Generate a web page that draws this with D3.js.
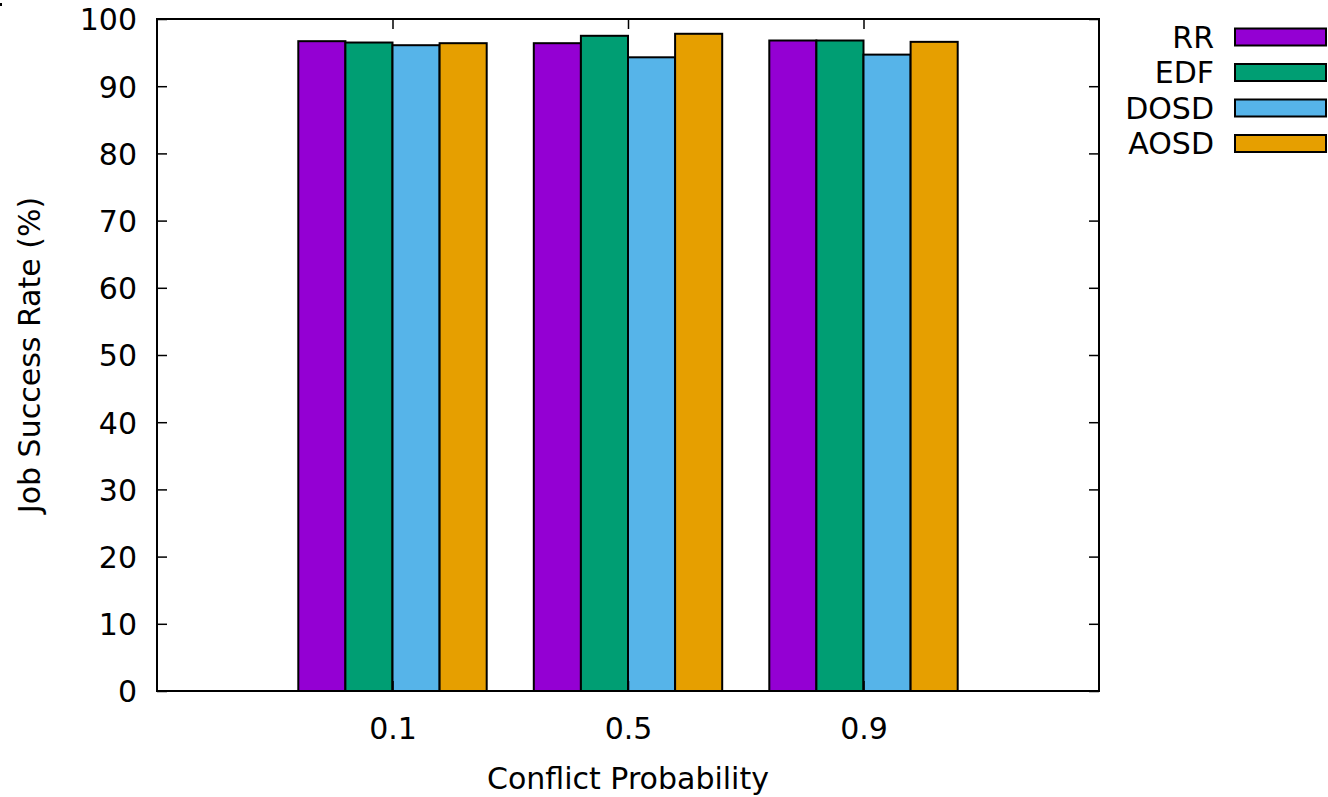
<!DOCTYPE html>
<html><head><meta charset="utf-8">
<script src="https://cdn.jsdelivr.net/npm/d3@7/dist/d3.min.js"></script>
<style>body{margin:0;background:#fff}svg{display:block}text{font-family:"DejaVu Sans",sans-serif;fill:#000}</style>
</head><body>
<svg id="c" width="1328" height="797"></svg>
<script>
const categories = ["0.1", "0.5", "0.9"];
const seriesNames = ["RR", "EDF", "DOSD", "AOSD"];
const seriesColors = ["#9400d3", "#009e73", "#56b4e9", "#e69f00"];
const RR   = [96.7, 96.4, 96.8];
const EDF  = [96.5, 97.5, 96.8];
const DOSD = [96.1, 94.3, 94.7];
const AOSD = [96.4, 97.8, 96.6];
const yTicks = [0,10,20,30,40,50,60,70,80,90,100];
const series = [RR, EDF, DOSD, AOSD];

const svg = d3.select("#c");
const L = 157, R = 1099, T = 19, B = 691;
const x = d3.scaleLinear().domain([-1, 3]).range([L, R]);
const y = d3.scaleLinear().domain([0, 100]).range([B, T]);
const fs = 30;
const bw = 0.2;

// bars
series.forEach((vals, s) => {
  svg.append("g").selectAll("rect").data(vals).join("rect")
    .attr("x", (d, i) => x(i - 0.4 + s * bw))
    .attr("width", x(bw) - x(0))
    .attr("y", d => y(d))
    .attr("height", d => y(0) - y(d))
    .attr("fill", seriesColors[s])
    .attr("stroke", "#000").attr("stroke-width", 2);
});

// frame
svg.append("rect").attr("x", L).attr("y", T).attr("width", R - L).attr("height", B - T)
  .attr("fill", "none").attr("stroke", "#000").attr("stroke-width", 2);

// y axis
const tl = 10;
const yAxis = d3.axisLeft(y).tickValues(yTicks).tickSize(-tl).tickPadding(20);
const gy = svg.append("g").attr("transform", `translate(${L},0)`).call(yAxis);
gy.select(".domain").remove();
gy.selectAll("line").attr("stroke", "#000").attr("stroke-width", 1.5);
gy.selectAll("text").attr("font-size", fs).attr("font-family", "DejaVu Sans").attr("dy", "0.36em");
const yAxisR = d3.axisRight(y).tickValues(yTicks).tickSize(-tl).tickFormat("");
const gyr = svg.append("g").attr("transform", `translate(${R},0)`).call(yAxisR);
gyr.select(".domain").remove();
gyr.selectAll("line").attr("stroke", "#000").attr("stroke-width", 1.5);

// x axis
const xb = d3.axisBottom(x).tickValues([0, 1, 2]).tickFormat(i => categories[i]).tickSize(-tl).tickPadding(48);
const gx = svg.append("g").attr("transform", `translate(0,${B})`).call(xb);
gx.select(".domain").remove();
gx.selectAll("line").attr("stroke", "#000").attr("stroke-width", 1.5);
gx.selectAll("text").attr("font-size", fs).attr("font-family", "DejaVu Sans").attr("dy", "0");
const xt = d3.axisTop(x).tickValues([0, 1, 2]).tickSize(-tl).tickFormat("");
const gxt = svg.append("g").attr("transform", `translate(0,${T})`).call(xt);
gxt.select(".domain").remove();
gxt.selectAll("line").attr("stroke", "#000").attr("stroke-width", 1.5);

// axis titles
svg.append("text").attr("x", (L + R) / 2).attr("y", 789).attr("text-anchor", "middle")
  .attr("font-size", fs).text("Conflict Probability");
svg.append("text").attr("transform", `translate(40,${(T + B) / 2}) rotate(-90)`)
  .attr("text-anchor", "middle").attr("font-size", fs).text("Job Success Rate (%)");

// legend
const lg = svg.append("g");
seriesNames.forEach((n, i) => {
  const cy = 37 + i * 35.5;
  lg.append("text").attr("x", 1214).attr("y", cy).attr("dy", "0.36em").attr("text-anchor", "end")
    .attr("font-size", fs).text(n);
  lg.append("rect").attr("x", 1235).attr("y", cy - 8.5).attr("width", 91).attr("height", 17)
    .attr("fill", seriesColors[i]).attr("stroke", "#000").attr("stroke-width", 2);
});
// small corner mark
svg.append("rect").attr("x", 0).attr("y", 3).attr("width", 2).attr("height", 3).attr("fill", "#000");
</script>
</body></html>
